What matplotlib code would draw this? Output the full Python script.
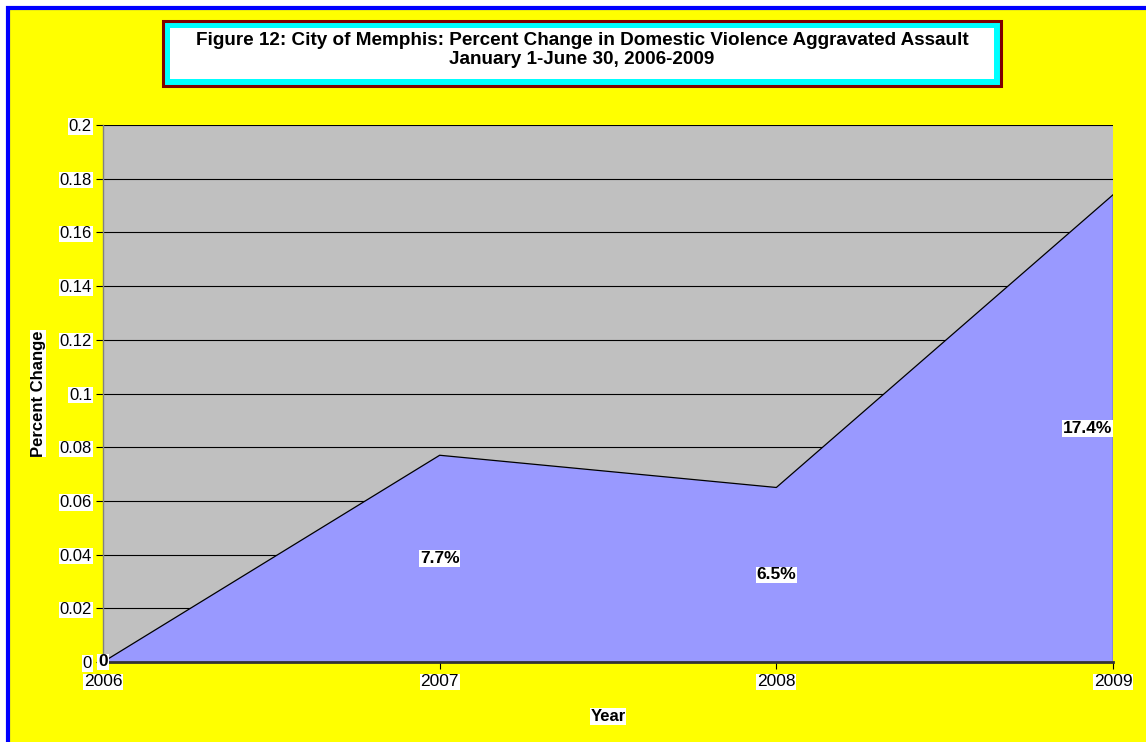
import matplotlib
matplotlib.use("Agg")
import matplotlib.pyplot as plt
from matplotlib.patches import Rectangle

years = ["2006", "2007", "2008", "2009"]
pct_change = [0.0, 0.077, 0.065, 0.174]
point_labels = ["0", "7.7%", "6.5%", "17.4%"]
y_ticks = [0, 0.02, 0.04, 0.06, 0.08, 0.1, 0.12, 0.14, 0.16, 0.18, 0.2]
y_tick_labels = ["0", "0.02", "0.04", "0.06", "0.08", "0.1", "0.12", "0.14", "0.16", "0.18", "0.2"]

plt.rcParams["font.family"] = ["Liberation Sans", "DejaVu Sans"]

W, H = 1146, 742
fig = plt.figure(figsize=(W / 100, H / 100), dpi=100, facecolor="white")

# yellow chart area with blue border (runs off the right/bottom edge)
fig.patches.append(Rectangle((7.5 / W, -0.02), 1.1, (H - 7.5) / H + 0.02,
                             transform=fig.transFigure, facecolor="#FFFF00",
                             edgecolor="#0000FF", linewidth=3, zorder=-5))

# title box: dark red outline, cyan frame, white inside
fig.patches.append(Rectangle((163 / W, 1 - 86 / H), 838 / W, 65 / H,
                             transform=fig.transFigure, facecolor="#00FFFF",
                             edgecolor="#800000", linewidth=2.2, zorder=1))
fig.patches.append(Rectangle((170 / W, 1 - 79 / H), 824 / W, 51 / H,
                             transform=fig.transFigure, facecolor="white",
                             edgecolor="none", zorder=2))
fig.text(0.5 * (163 + 1001) / W, 1 - 50 / H,
         "Figure 12: City of Memphis: Percent Change in Domestic Violence Aggravated Assault\n"
         "January 1-June 30, 2006-2009",
         ha="center", va="center", fontsize=13.6, fontweight="bold", linespacing=1.2, zorder=3)

ax = fig.add_axes([103 / W, 1 - 662 / H, (1113 - 103) / W, (662 - 125) / H])
ax.set_facecolor("#C0C0C0")
xs = list(range(len(years)))
ax.fill_between(xs, pct_change, 0, facecolor="#9999FF", edgecolor="none", zorder=2)
ax.plot(xs, pct_change, color="black", linewidth=0.9, zorder=3)
ax.plot([xs[-1], xs[-1]], [0, pct_change[-1]], color="black", linewidth=0.9, zorder=3)

ax.set_xlim(0, len(years) - 1)
ax.set_ylim(0, 0.2)
ax.set_yticks(y_ticks)
ax.set_yticklabels(y_tick_labels)
ax.set_xticks(xs)
ax.set_xticklabels(years)
ax.yaxis.grid(True, color="black", linewidth=0.8, zorder=1)
ax.set_axisbelow(True)
for side in ("top", "right"):
    ax.spines[side].set_visible(False)
ax.spines["left"].set_color("#808080")
ax.spines["left"].set_linewidth(1)
ax.spines["bottom"].set_color("#333333")
ax.spines["bottom"].set_linewidth(2)
ax.spines["bottom"].set_zorder(4)
ax.tick_params(axis="y", direction="out", length=5, width=0.8, labelsize=12, pad=3)
ax.tick_params(axis="x", direction="out", length=5, width=0.8, labelsize=12.5, pad=4)
for lbl in ax.get_yticklabels() + ax.get_xticklabels():
    lbl.set_bbox(dict(facecolor="white", edgecolor="none", pad=0.5))

for i, (v, txt) in enumerate(zip(pct_change, point_labels)):
    ha = "right" if i == len(years) - 1 else "center"
    x = xs[i] - 0.003 if i == len(years) - 1 else xs[i]
    ax.text(x, v / 2, txt, ha=ha, va="center", fontsize=12.5, fontweight="bold", zorder=5,
            bbox=dict(facecolor="white", edgecolor="none", pad=0.5))

ax.set_xlabel("Year", fontsize=12, fontweight="bold", labelpad=14)
ax.set_ylabel("Percent Change", fontsize=12, fontweight="bold", labelpad=10,
              bbox=dict(facecolor="white", edgecolor="none", pad=0.5))
ax.xaxis.label.set_bbox(dict(facecolor="white", edgecolor="none", pad=0.5))

fig.savefig("out.png", dpi=100, facecolor=fig.get_facecolor())
